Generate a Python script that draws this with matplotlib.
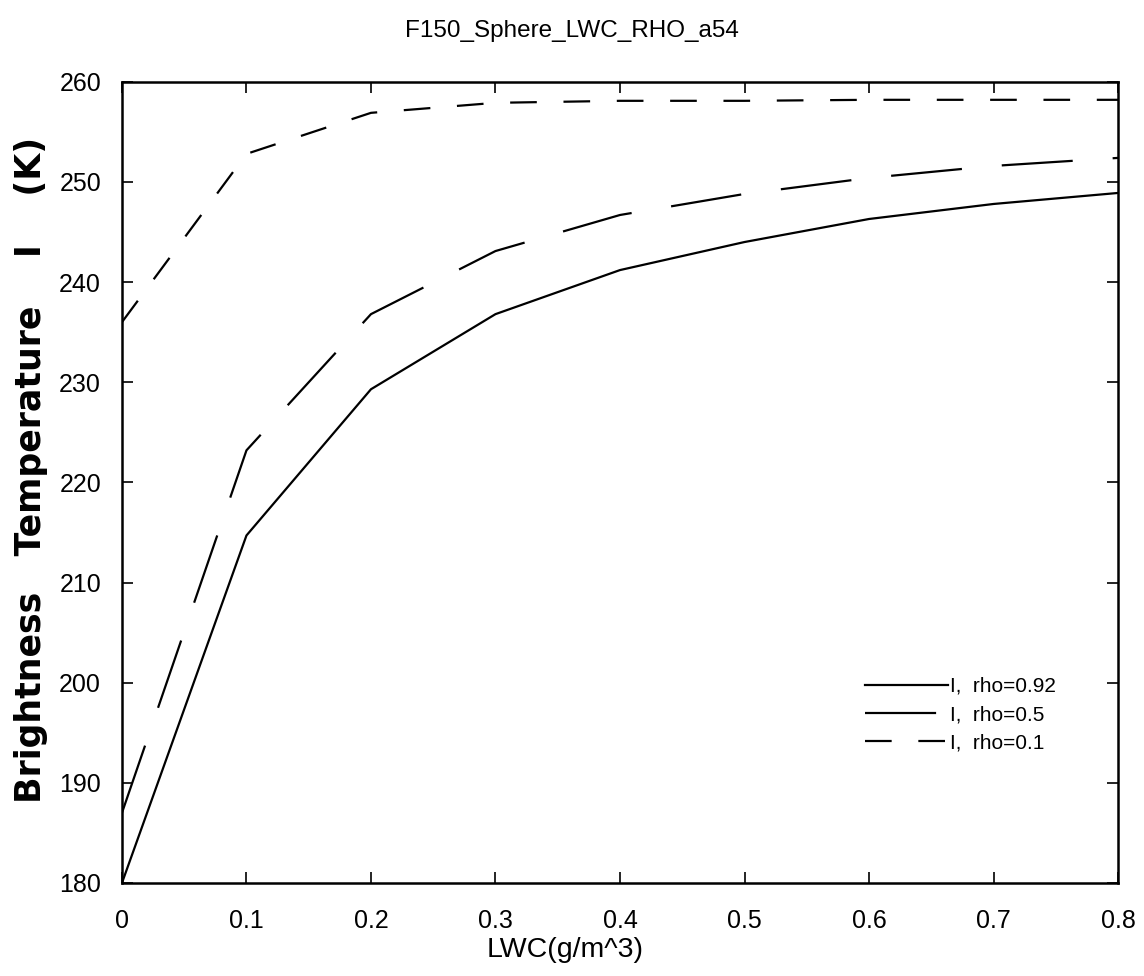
import numpy as np
import matplotlib
matplotlib.use("Agg")
import matplotlib.pyplot as plt

plt.rcParams['font.family'] = ['Liberation Sans', 'DejaVu Sans']

# LWC (g/m^3) and brightness temperature I (K)
lwc = [0.0, 0.1, 0.2, 0.3, 0.4, 0.5, 0.6, 0.7, 0.8]
tb_rho092 = [180.0, 214.7, 229.3, 236.8, 241.2, 244.0, 246.3, 247.8, 248.9]
tb_rho05 = [187.0, 223.2, 236.8, 243.1, 246.7, 248.8, 250.4, 251.6, 252.4]
tb_rho01 = [236.0, 252.8, 256.9, 257.9, 258.1, 258.1, 258.2, 258.2, 258.2]

labels = ['I,  rho=0.92', 'I,  rho=0.5', 'I,  rho=0.1']
xtick_labels = ['0', '0.1', '0.2', '0.3', '0.4', '0.5', '0.6', '0.7', '0.8']

fig = plt.figure(figsize=(11.44, 9.76), dpi=100)
ax = fig.add_axes([0.1066, 0.0953, 0.8707, 0.8209])

ax.plot(lwc, tb_rho092, color='black', lw=1.6, label=labels[0])
ax.plot(lwc, tb_rho05, color='black', lw=1.6, dashes=(32, 18), label=labels[1])
ax.plot(lwc, tb_rho01, color='black', lw=1.6, dashes=(12, 12), label=labels[2])

ax.set_xlim(0, 0.8)
ax.set_ylim(180, 260)
ax.set_xticks(np.arange(0, 0.81, 0.1))
ax.set_xticklabels(xtick_labels)
ax.set_yticks(np.arange(180, 261, 10))

ax.tick_params(direction='in', length=8, width=1.2, top=True, right=True)
ax.tick_params(axis='x', labelsize=18, pad=19)
ax.tick_params(axis='y', labelsize=18, pad=15)
for s in ax.spines.values():
    s.set_linewidth(1.8)

fig.text(0.5, 0.968, 'F150_Sphere_LWC_RHO_a54', ha='center', va='center',
         fontsize=17.5)
fig.text(0.494, 0.027, 'LWC(g/m^3)', ha='center', va='center', fontsize=20.5)
fig.text(0.027, 0.518, 'Brightness   Temperature    I    (K)', rotation=90,
         ha='center', va='center', fontsize=25, fontweight='bold',
         family=['DejaVu Sans'])

ax.legend(loc='center left', bbox_to_anchor=(0.727, 0.21), frameon=False,
          fontsize=15, handlelength=4.0, handletextpad=0.1, labelspacing=0.45)

fig.savefig('out.png', dpi=100)
